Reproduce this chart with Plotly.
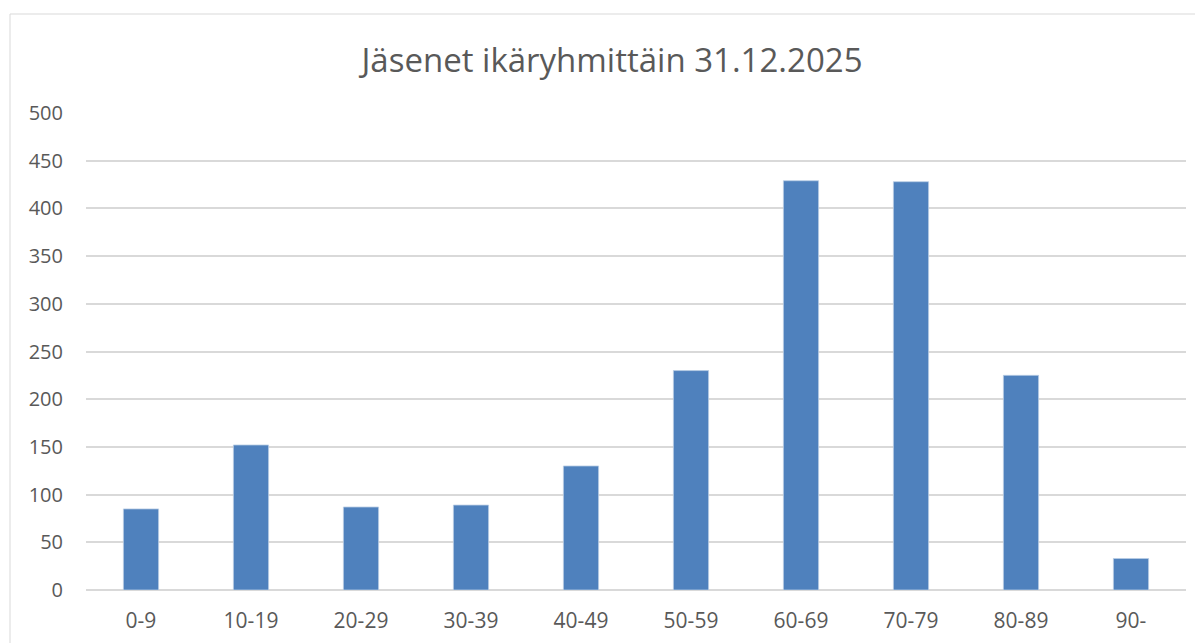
import plotly.graph_objects as go

categories = ["0-9", "10-19", "20-29", "30-39", "40-49", "50-59", "60-69", "70-79", "80-89", "90-"]
members = [85, 152, 87, 89, 130, 230, 429, 428, 225, 33]
y_ticks = [0, 50, 100, 150, 200, 250, 300, 350, 400, 450, 500]
title_text = "Jäsenet ikäryhmittäin 31.12.2025"

# page has an 8px body margin; figure coordinates = page coordinates - 8
W, H = 1203, 643
L, T = 78, 105
R = W - 1178
B = H - 582
pw, ph = W - L - R, H - T - B

fig = go.Figure(go.Bar(
    x=categories, y=members,
    marker=dict(color="#4F81BD", line=dict(color="#B9CDE5", width=0.8)),
    width=0.32, hoverinfo="x+y",
))

font_fam = "Open Sans, Liberation Sans, sans-serif"
fig.update_layout(
    width=W, height=H,
    margin=dict(l=L, r=R, t=T, b=B),
    paper_bgcolor="white", plot_bgcolor="white",
    showlegend=False,
    title=dict(text=title_text, x=604 / W, xref="container", xanchor="center",
               y=1 - 52 / H, yref="container", yanchor="middle",
               font=dict(family=font_fam, size=33, color="#595959")),
    xaxis=dict(showgrid=False, showline=False, zeroline=False, ticks="",
               ticklabelstandoff=16,
               tickfont=dict(family=font_fam, size=21, color="#595959")),
    yaxis=dict(range=[0, 500], tickvals=y_ticks, showgrid=True, gridcolor="#D9D9D9",
               gridwidth=1.5, zeroline=True, zerolinecolor="#D9D9D9", zerolinewidth=1.5,
               showline=False, ticks="", ticklabelstandoff=22,
               tickfont=dict(family=font_fam, size=20, color="#595959")),
    shapes=[dict(type="rect", xref="paper", yref="paper",
                 x0=(2 - L) / pw, x1=(W + 20 - L) / pw,
                 y0=-(B + 20) / ph, y1=(ph + (T - 6)) / ph,
                 line=dict(color="#D9D9D9", width=1), fillcolor="rgba(0,0,0,0)", layer="below")],
)

fig.write_html("out.html")
